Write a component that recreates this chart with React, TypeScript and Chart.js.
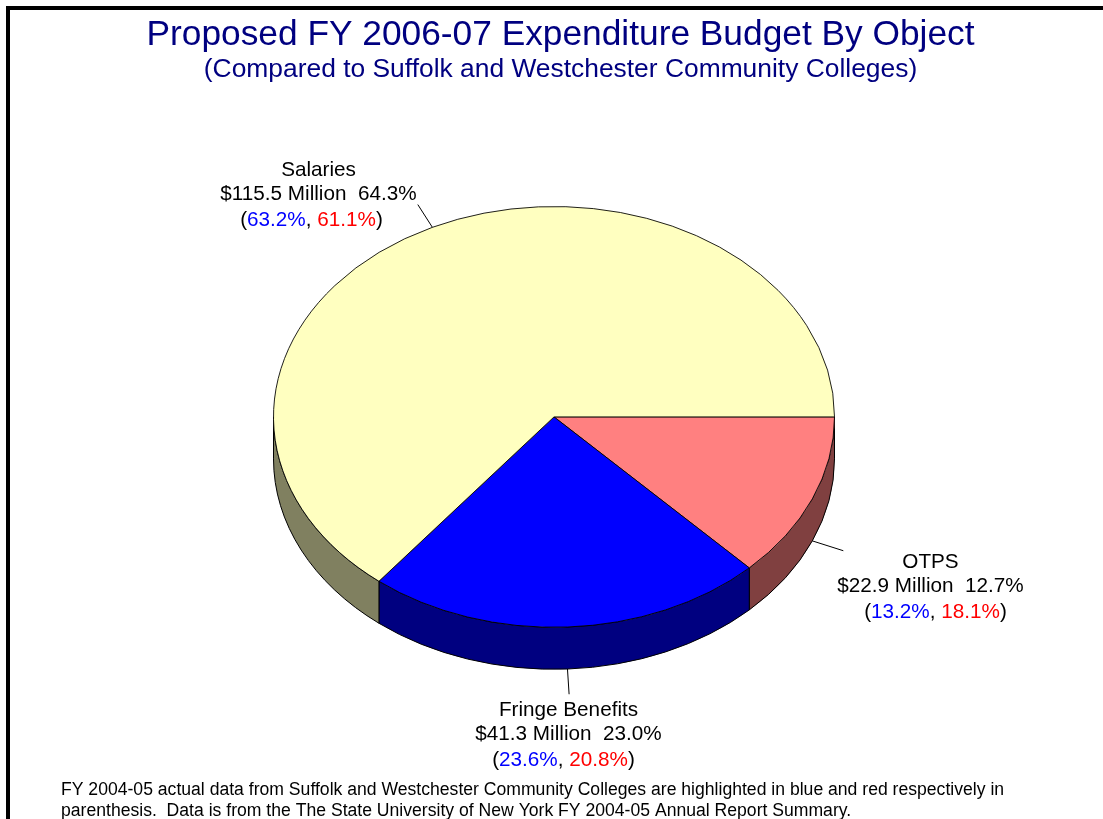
import React, { useEffect, useRef } from "react";
import { Chart, registerables } from "chart.js";

Chart.register(...registerables);

const titleText = "Proposed FY 2006-07 Expenditure Budget By Object";
const subtitleText = "(Compared to Suffolk and Westchester Community Colleges)";
const footnoteLines = [
  "FY 2004-05 actual data from Suffolk and Westchester Community Colleges are highlighted in blue and red respectively in",
  "parenthesis.  Data is from the The State University of New York FY 2004-05 Annual Report Summary.",
];

const categories = ["OTPS", "Fringe Benefits", "Salaries"];
const millions = [22.9, 41.3, 115.5];
const sharePct = ["12.7%", "23.0%", "64.3%"];
const suffolkPct = ["13.2%", "23.6%", "63.2%"];
const westchesterPct = ["18.1%", "20.8%", "61.1%"];

const topColors = ["#FF8080", "#0000FF", "#FFFFC0"];
const sideColors = ["#804040", "#000080", "#808060"];

const FONT = "'Liberation Sans', Arial, sans-serif";
const Y_SCALE = 0.75;
const DEPTH = 42;
const LEADER = 1.12;

// centre x of the label block and the y of its first line, third-line x offset
const labelLayout = [
  { x: 930.5, y: 562, thirdDx: 5 },
  { x: 568.5, y: 710, thirdDx: -5 },
  { x: 318.5, y: 170, thirdDx: -7 },
];

const pie3d = {
  id: "pie3d",
  afterLayout(chart: any) {
    // the titles are centred right of the pie and wider than it
    chart.boxes.forEach((b: any) => {
      if (b.position === "top") {
        b.left = 18;
        b.right = chart.width;
      }
    });
  },
  beforeDatasetsDraw(chart: any) {
    const ctx = chart.ctx as CanvasRenderingContext2D;
    const arcs = chart.getDatasetMeta(0).data;
    const { x: cx, y: cy } = arcs[0];
    const r = arcs[0].outerRadius;
    const ry = r * Y_SCALE;

    // frame
    ctx.save();
    ctx.fillStyle = "#000";
    ctx.fillRect(6, 6, chart.width - 6, 4);
    ctx.fillRect(6, 6, 4, chart.height - 6);
    ctx.restore();

    // extruded rim
    ctx.save();
    ctx.lineWidth = 1;
    ctx.strokeStyle = "#000";
    arcs.forEach((arc: any, i: number) => {
      const s = Math.max(arc.startAngle, 0);
      const e = Math.min(arc.endAngle, Math.PI);
      if (e <= s) return;
      ctx.beginPath();
      ctx.ellipse(cx, cy, r, ry, 0, s, e, false);
      ctx.ellipse(cx, cy + DEPTH, r, ry, 0, e, s, true);
      ctx.closePath();
      ctx.fillStyle = sideColors[i];
      ctx.fill();
      ctx.stroke();
    });
    ctx.restore();

    // flatten the pie disc into an ellipse
    ctx.save();
    ctx.translate(cx, cy);
    ctx.scale(1, Y_SCALE);
    ctx.translate(-cx, -cy);
  },
  afterDatasetsDraw(chart: any) {
    const ctx = chart.ctx as CanvasRenderingContext2D;
    ctx.restore();

    const arcs = chart.getDatasetMeta(0).data;
    const { x: cx, y: cy } = arcs[0];
    const r = arcs[0].outerRadius;

    ctx.save();
    arcs.forEach((arc: any, i: number) => {
      const mid = (arc.startAngle + arc.endAngle) / 2;
      const c = Math.cos(mid);
      const sn = Math.sin(mid);
      const drop = sn > 0 ? DEPTH : 0;
      ctx.beginPath();
      ctx.moveTo(cx + r * c, cy + r * Y_SCALE * sn + drop);
      ctx.lineTo(cx + r * LEADER * c, cy + r * LEADER * Y_SCALE * sn + drop);
      ctx.strokeStyle = "#000";
      ctx.lineWidth = 1;
      ctx.stroke();

      const l = labelLayout[i];
      ctx.font = `20.7px ${FONT}`;
      ctx.textBaseline = "middle";
      ctx.textAlign = "center";
      ctx.fillStyle = "#000";
      ctx.fillText(categories[i], l.x, l.y);
      ctx.fillText(`$${millions[i].toFixed(1)} Million  ${sharePct[i]}`, l.x, l.y + 24.5);

      const runs: [string, string][] = [
        ["(", "#000"],
        [suffolkPct[i], "#0000FF"],
        [", ", "#000"],
        [westchesterPct[i], "#FF0000"],
        [")", "#000"],
      ];
      const total = runs.reduce((w, [t]) => w + ctx.measureText(t).width, 0);
      let x = l.x + l.thirdDx - total / 2;
      ctx.textAlign = "left";
      runs.forEach(([t, col]) => {
        ctx.fillStyle = col;
        ctx.fillText(t, x, l.y + 50);
        x += ctx.measureText(t).width;
      });
    });

    ctx.font = `17.6px ${FONT}`;
    ctx.textAlign = "left";
    ctx.textBaseline = "middle";
    ctx.fillStyle = "#000";
    footnoteLines.forEach((t, i) => ctx.fillText(t, 61, 790 + i * 21));
    ctx.restore();
  },
};

export default function App() {
  const ref = useRef<HTMLCanvasElement>(null);
  useEffect(() => {
    const chart = new Chart(ref.current!, {
      type: "pie",
      data: {
        labels: categories,
        datasets: [
          {
            data: millions,
            backgroundColor: topColors,
            borderColor: "#000",
            borderWidth: 1,
          },
        ],
      },
      options: {
        responsive: false,
        animation: false,
        devicePixelRatio: 1,
        rotation: 90,
        layout: { padding: { left: 273, right: 268, top: 17, bottom: 121 } },
        plugins: {
          legend: { display: false },
          tooltip: { enabled: false },
          title: {
            display: true,
            text: titleText,
            color: "#000080",
            font: { family: FONT, size: 35.3, weight: "normal", lineHeight: 1.037 },
            padding: { top: 0, bottom: 0 },
          },
          subtitle: {
            display: true,
            text: subtitleText,
            color: "#000080",
            font: { family: FONT, size: 26.4, weight: "normal", lineHeight: 1.2 },
            padding: { top: 0, bottom: 50.5 },
          },
        },
      },
      plugins: [pie3d],
    } as any);
    return () => chart.destroy();
  }, []);
  return (
    <div style={{ position: "absolute", left: 0, top: 0, width: 1103, height: 819, overflow: "hidden", background: "#fff" }}>
      <canvas ref={ref} width={1103} height={819} style={{ display: "block" }} />
    </div>
  );
}
